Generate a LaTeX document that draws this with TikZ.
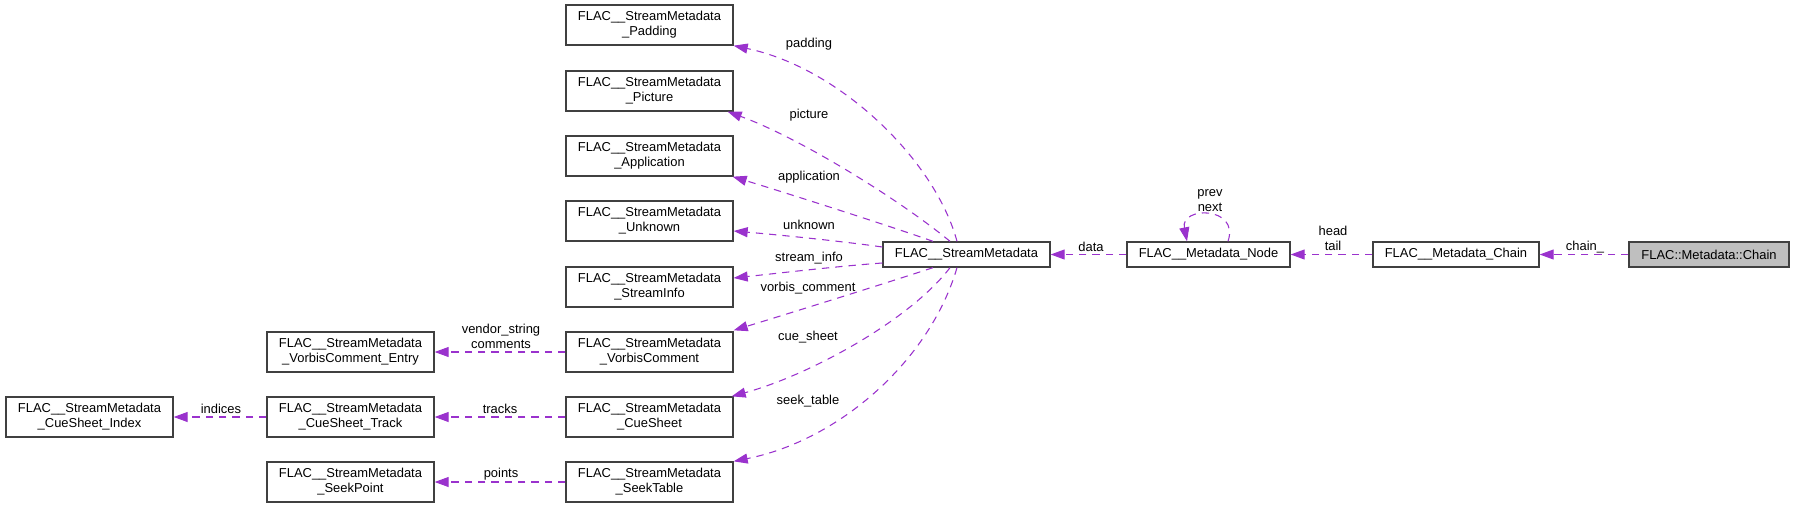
\documentclass[tikz,border=0pt]{standalone}
\usepackage{fontspec}
\setmainfont{Liberation Sans}
\usetikzlibrary{arrows.meta,calc}
\definecolor{edgec}{HTML}{9A32CD}
\definecolor{boxc}{HTML}{404040}
\definecolor{grayfill}{HTML}{BFBFBF}
\begin{document}
\begin{tikzpicture}[x=0.75pt,y=-0.75pt,
  box/.style={draw=boxc, line width=1pt, fill=white, inner sep=0pt,
    font=\fontsize{9.7}{11.25}\selectfont, align=center},
  boxtwo/.style={box, minimum width=125.25pt, minimum height=30pt},
  boxone/.style={box, minimum height=18.75pt},
  rel/.style={draw=edgec, line width=0.8pt, dash pattern=on 5.5pt off 4.5pt,
    -{Triangle[length=10.5pt,width=7.5pt]}},
  lbl/.style={font=\fontsize{9.7}{11.25}\selectfont, inner sep=0pt, align=center}]
\useasboundingbox (0,0) rectangle (1795,508);

% right column of struct boxes
\node[boxtwo] (padding)     at (649.5,25)  {FLAC\_\_StreamMetadata\\\_Padding};
\node[boxtwo] (picture)     at (649.5,91)  {FLAC\_\_StreamMetadata\\\_Picture};
\node[boxtwo] (application) at (649.5,156) {FLAC\_\_StreamMetadata\\\_Application};
\node[boxtwo] (unknown)     at (649.5,221) {FLAC\_\_StreamMetadata\\\_Unknown};
\node[boxtwo] (streaminfo)  at (649.5,287) {FLAC\_\_StreamMetadata\\\_StreamInfo};
\node[boxtwo] (vorbis)      at (649.5,352) {FLAC\_\_StreamMetadata\\\_VorbisComment};
\node[boxtwo] (cuesheet)    at (649.5,417) {FLAC\_\_StreamMetadata\\\_CueSheet};
\node[boxtwo] (seektable)   at (649.5,482) {FLAC\_\_StreamMetadata\\\_SeekTable};

\node[boxtwo] (vcentry)   at (350.5,352) {FLAC\_\_StreamMetadata\\\_VorbisComment\_Entry};
\node[boxtwo] (track)     at (350.5,417) {FLAC\_\_StreamMetadata\\\_CueSheet\_Track};
\node[boxtwo] (seekpoint) at (350.5,482) {FLAC\_\_StreamMetadata\\\_SeekPoint};
\node[boxtwo] (index)     at (89.5,417)  {FLAC\_\_StreamMetadata\\\_CueSheet\_Index};

\node[boxone, minimum width=125.25pt] (main)   at (966.5,254.5) {FLAC\_\_StreamMetadata};
\node[boxone, minimum width=122.25pt] (mnode)  at (1208.5,254.5) {FLAC\_\_Metadata\_Node};
\node[boxone, minimum width=124.5pt]  (mchain) at (1456,254.5) {FLAC\_\_Metadata\_Chain};
\node[boxone, minimum width=120pt, fill=grayfill] (chain) at (1709,254.5) {FLAC::Metadata::Chain};

% connectors
\draw[rel] (chain.west) -- (mchain.east);
\draw[rel] (mchain.west) -- (mnode.east);
\draw[rel] (mnode.west) -- (main.east);
\draw[rel] ($(mnode.north)+(19.5,0)$) .. controls (1240,206) and (1180,206) .. ($(mnode.north)+(-21.5,0)$);

\draw[rel] ($(main.north)+(-9.5,0)$) .. controls (935,160) and (840,68) .. (padding.south east);
\draw[rel] ($(main.north)+(-16.5,0)$) .. controls (900,200) and (800,138) .. ($(picture.south east)+(-6,0)$);
\draw[rel] ($(main.north)+(-33.5,0)$) .. controls (890,226) and (780,191) .. ($(application.south east)+(-1,0)$);
\draw[rel] ($(main.west)+(0,-7.5)$) .. controls (840,241) and (780,235) .. ($(unknown.east)+(0,10)$);
\draw[rel] ($(main.west)+(0,8.5)$) .. controls (840,266) and (780,273) .. ($(streaminfo.east)+(0,-9)$);
\draw[rel] ($(main.south)+(-33.5,0)$) .. controls (880,285) and (800,310) .. ($(vorbis.north east)+(0,-1)$);
\draw[rel] ($(main.south)+(-16.5,0)$) .. controls (910,320) and (810,375) .. ($(cuesheet.north east)+(-2,0)$);
\draw[rel] ($(main.south)+(-9.5,0)$) .. controls (930,360) and (840,440) .. (seektable.north east);

\draw[rel] (vorbis.west) -- (vcentry.east);
\draw[rel] (cuesheet.west) -- (track.east);
\draw[rel] (track.west) -- (index.east);
\draw[rel] (seektable.west) -- (seekpoint.east);

% labels
\node[lbl] (lpadding) at (809,44)  {padding};
\node[lbl] (lpicture) at (809,115) {picture};
\node[lbl] (lapp)     at (809,177) {application};
\node[lbl] (lunknown) at (809,225) {unknown};
\node[lbl] (lsinfo)   at (809,258) {stream\_info};
\node[lbl] (lvorbis)  at (808,288) {vorbis\_comment};
\node[lbl] (lcue)     at (808,337) {cue\_sheet};
\node[lbl] (lseek)    at (808,401) {seek\_table};
\node[lbl] (ldata)    at (1091,247) {data};
\node[lbl] (lprev)    at (1210,201) {prev\\next};
\node[lbl] (lhead)    at (1333,238.5) {head\\tail};
\node[lbl] (lchain)   at (1585,247) {chain\_};
\node[lbl] (lindices) at (221,409) {indices};
\node[lbl] (ltracks)  at (500,409) {tracks};
\node[lbl] (lpoints)  at (501,474) {points};
\node[lbl] (lvendor)  at (501,336.5) {vendor\_string\\comments};
\end{tikzpicture}
\end{document}
